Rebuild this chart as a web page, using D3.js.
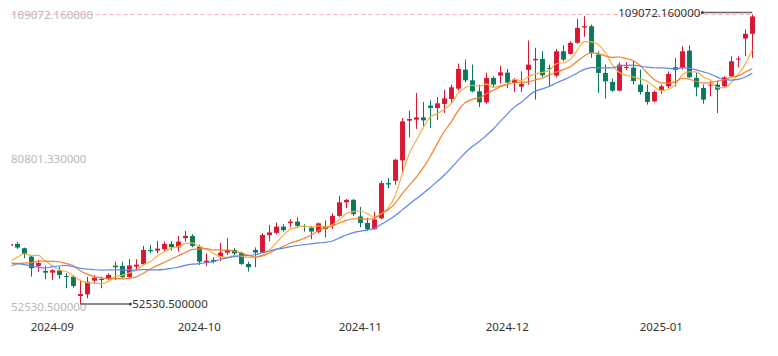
<!DOCTYPE html>
<html>
<head>
<meta charset="utf-8">
<script src="https://cdn.jsdelivr.net/npm/d3@7/dist/d3.min.js"></script>
<style>
  html, body { margin: 0; padding: 0; background: #fff; }
  svg { display: block; }
  text { font-family: "Noto Sans", "Open Sans", sans-serif; }
</style>
</head>
<body>
<svg id="chart" width="778" height="356"></svg>
<script>
// ---------------- DATA ----------------
const dates = [
  "2024-08-23","2024-08-26","2024-08-27","2024-08-28","2024-08-29","2024-08-30",
  "2024-09-02","2024-09-03","2024-09-04","2024-09-05","2024-09-06","2024-09-09","2024-09-10","2024-09-11","2024-09-12","2024-09-13",
  "2024-09-16","2024-09-17","2024-09-18","2024-09-19","2024-09-20","2024-09-23","2024-09-24","2024-09-25","2024-09-26","2024-09-27","2024-09-30",
  "2024-10-01","2024-10-02","2024-10-03","2024-10-04","2024-10-07","2024-10-08","2024-10-09","2024-10-10","2024-10-11",
  "2024-10-14","2024-10-15","2024-10-16","2024-10-17","2024-10-18","2024-10-21","2024-10-22","2024-10-23","2024-10-24","2024-10-25",
  "2024-10-28","2024-10-29","2024-10-30","2024-10-31",
  "2024-11-01","2024-11-04","2024-11-05","2024-11-06","2024-11-07","2024-11-08","2024-11-11","2024-11-12","2024-11-13","2024-11-14","2024-11-15",
  "2024-11-18","2024-11-19","2024-11-20","2024-11-21","2024-11-22","2024-11-25","2024-11-26","2024-11-27","2024-11-28","2024-11-29",
  "2024-12-02","2024-12-03","2024-12-04","2024-12-05","2024-12-06","2024-12-09","2024-12-10","2024-12-11","2024-12-12","2024-12-13",
  "2024-12-16","2024-12-17","2024-12-18","2024-12-19","2024-12-20","2024-12-23","2024-12-24","2024-12-25","2024-12-26","2024-12-27",
  "2024-12-30","2024-12-31",
  "2025-01-01","2025-01-02","2025-01-03","2025-01-06","2025-01-07","2025-01-08","2025-01-09","2025-01-10",
  "2025-01-13","2025-01-14","2025-01-15","2025-01-16","2025-01-17","2025-01-20"
];

const opens = [
  63877,64268,63427,61784,59964,58986,58653,59045,58008,57871,54095,54427,57088,57421,57421,60023,
  59964,57812,59827,60297,63094,62958,63231,64268,63623,65384,65834,
  63740,60610,61138,61725,62566,63094,62449,60355,63094,
  62566,65971,66421,67653,68319,68632,67790,67458,66616,67203,67927,69747,72388,72877,
  69610,68377,67144,69257,76144,76594,80566,88333,88529,88979,91268,
  90818,91601,92579,94594,98311,96218,94066,91914,96687,97138,
  97725,95709,94985,98253,100131,100405,98644,97138,101892,101383,
  103535,106529,106783,101246,97666,95905,94203,98644,98703,95377,93948,92109,
  94203,95044,98762,98644,102029,96687,94731,95181,95377,95044,97001,100268,104377,105296
];
const highs = [
  64464,64660,63545,61921,61138,59964,59318,59710,58536,58203,57029,57871,58144,57871,58536,60806,
  60806,61334,61274,63877,64073,64855,64718,64855,65834,66812,66166,
  64073,62449,61666,64464,65384,63427,62762,60806,63584,
  66362,67986,68436,68123,69101,69492,68123,67790,68436,68866,70274,73660,73034,73014,
  71507,69355,70588,76594,77123,80899,88862,90290,93753,91992,92305,
  92970,94398,95377,99485,100268,99290,95377,97666,97001,99094,
  98448,96687,97979,103985,102557,101892,99290,102361,103066,103848,
  108231,108740,107116,101892,99290,96551,99740,99740,100072,98311,95377,94203,
  95377,97979,100601,102870,103066,97666,95377,96022,96159,97001,100914,100914,106137,109072.16
];
const lows = [
  63681,63290,61470,57871,58849,57362,57225,57479,55601,55718,52530.5,53644,56579,55601,57225,57225,
  57479,57557,59181,60160,62449,62449,62762,62958,62762,64718,63623,
  60160,59964,60492,60942,62116,62116,60160,58849,59709,
  62449,64797,66127,66675,67497,67301,66675,65188,66362,65579,67203,69551,71253,69747,
  67536,66773,67007,69062,75166,75812,78414,85066,86709,87218,86905,
  88529,89840,91796,94203,95827,93870,91014,91659,94927,95572,
  94731,93948,93948,95377,92442,96805,95044,96805,99935,101246,
  103340,104709,100601,93753,92638,93948,94066,98253,95377,93420,91464,91914,
  93557,94731,95044,98311,96687,93088,91659,93088,89840,94731,96805,98762,100914,100601
];
const closes = [
  64268,63545,62312,59514,60551,58653,59123,58203,57871,56051,54486,56892,57675,57284,58203,59709,
  57753,60062,60219,63094,62839,63349,64268,63623,64718,65834,63877,
  60806,61001,60747,62566,63094,62410,60355,59709,62566,
  66029,66518,67653,66949,68632,67790,67653,66675,68279,67692,69747,72388,72877,70079,
  68377,67144,69023,76144,75870,80703,88196,88666,88979,88392,90818,
  91718,92696,94849,98448,96218,94066,91914,96687,95377,97783,
  95768,96355,95514,99290,100405,97196,98507,101892,100268,103535,
  106470,106783,101579,97666,96022,94203,99290,98840,96062,93948,91992,93948,
  95044,97470,98253,101892,96805,94849,92442,95377,94398,96805,99935,100464,105296,108700
];
// closes of the trading days before the first visible candle (feed the moving averages)
const priorCloses = [66800,66200,64600,65300,61500,54000,56000,55100,61700,60800,59300,60600,58700,57500,58900,59500,59000,61200,60400];

const maPeriods = [5, 10, 20];
const maColors = ["#f7b23b", "#fa7d2d", "#5b86ee"];

const tickDates  = ["2024-09-02","2024-10-01","2024-11-01","2024-12-02","2025-01-01"];
const tickLabels = ["2024-09","2024-10","2024-11","2024-12","2025-01"];

const upColor = "#dc1630", downColor = "#08795c";

// ---------------- CHART ----------------
const W = 778, H = 356;
const svg = d3.select("#chart");
svg.append("rect").attr("width", W).attr("height", H).attr("fill", "#fff");

const plotLeft = 11.5, plotRight = 757;
const x = d3.scaleBand().domain(dates).range([6.8, 755.8]).paddingInner(0.3).paddingOuter(0.15);
const bw = x.bandwidth();
const cx = d => x(d) + bw / 2;

const yMin = d3.min(lows), yMax = d3.max(highs);
const y = d3.scaleLinear().domain([yMin, yMax]).range([304, 14.5]);

svg.append("defs").append("clipPath").attr("id", "plotclip")
  .append("rect").attr("x", plotLeft).attr("y", 0).attr("width", plotRight - plotLeft).attr("height", 320);

// dashed max line
svg.append("line").attr("x1", plotLeft).attr("x2", cx(dates[dates.length - 1]))
  .attr("y1", y(yMax)).attr("y2", y(yMax))
  .attr("stroke", "#f4b4b8").attr("stroke-width", 1).attr("stroke-dasharray", "4,3");

const g = svg.append("g").attr("clip-path", "url(#plotclip)");

const candles = dates.map((d, i) => ({ d, o: opens[i], h: highs[i], l: lows[i], c: closes[i] }));
const cg = g.selectAll("g.c").data(candles).join("g").attr("class", "c");
cg.append("line")
  .attr("x1", d => Math.round(cx(d.d)) + 0.5).attr("x2", d => Math.round(cx(d.d)) + 0.5)
  .attr("y1", d => y(d.h)).attr("y2", d => y(d.l))
  .attr("stroke", d => d.c >= d.o ? upColor : downColor).attr("stroke-width", 1);
cg.append("rect")
  .attr("x", d => Math.round(cx(d.d)) + 0.5 - bw / 2)
  .attr("width", bw)
  .attr("y", d => y(Math.max(d.o, d.c)))
  .attr("height", d => Math.max(1, Math.abs(y(d.o) - y(d.c))))
  .attr("fill", d => d.c >= d.o ? upColor : downColor);

// moving averages
const allCloses = priorCloses.concat(closes);
maPeriods.forEach((n, mi) => {
  const vals = closes.map((c, i) => {
    const j = i + priorCloses.length;
    return d3.mean(allCloses.slice(j - n + 1, j + 1));
  });
  const line = d3.line().x((v, i) => cx(dates[i])).y(v => y(v)).curve(d3.curveMonotoneX);
  g.append("path").datum(vals).attr("d", line)
    .attr("fill", "none").attr("stroke", maColors[mi]).attr("stroke-width", 1.2);
});

// y axis labels (min / mid / max), drawn inside the plot
const yTicks = [yMax, (yMax + yMin) / 2, yMin];
svg.selectAll("text.ylab").data(yTicks).join("text").attr("class", "ylab")
  .attr("x", 11).attr("y", (v, i) => i === 2 ? y(v) + 2.5 : y(v))
  .attr("dy", "0.35em")
  .attr("font-size", 11.5).attr("fill", "#b8b8b8")
  .text(v => v.toFixed(6));

// x axis labels
svg.selectAll("text.xlab").data(tickDates).join("text").attr("class", "xlab")
  .attr("x", d => cx(d)).attr("y", 327).attr("dy", "0.35em")
  .attr("text-anchor", "middle").attr("font-size", 11.5).attr("fill", "#333")
  .text((d, i) => tickLabels[i]);

// max marker
const iMax = highs.indexOf(yMax);
const maxX = cx(dates[iMax]), maxY = y(yMax) - 2;
svg.append("line").attr("x1", maxX - 50).attr("x2", maxX).attr("y1", maxY).attr("y2", maxY)
  .attr("stroke", "#666").attr("stroke-width", 1.5);
svg.append("circle").attr("cx", maxX - 50).attr("cy", maxY).attr("r", 1.5).attr("fill", "#444");
svg.append("text").attr("x", maxX - 52).attr("y", maxY).attr("dy", "0.35em")
  .attr("text-anchor", "end").attr("font-size", 11.5).attr("fill", "#333").text(yMax.toFixed(6));

// min marker
const iMin = lows.indexOf(yMin);
const minX = cx(dates[iMin]), minY = y(yMin);
svg.append("line").attr("x1", minX).attr("x2", minX + 50).attr("y1", minY).attr("y2", minY)
  .attr("stroke", "#666").attr("stroke-width", 1.5);
svg.append("circle").attr("cx", minX + 50).attr("cy", minY).attr("r", 1.5).attr("fill", "#444");
svg.append("text").attr("x", minX + 52).attr("y", minY).attr("dy", "0.35em")
  .attr("text-anchor", "start").attr("font-size", 11.5).attr("fill", "#333").text(yMin.toFixed(6));
</script>
</body>
</html>
